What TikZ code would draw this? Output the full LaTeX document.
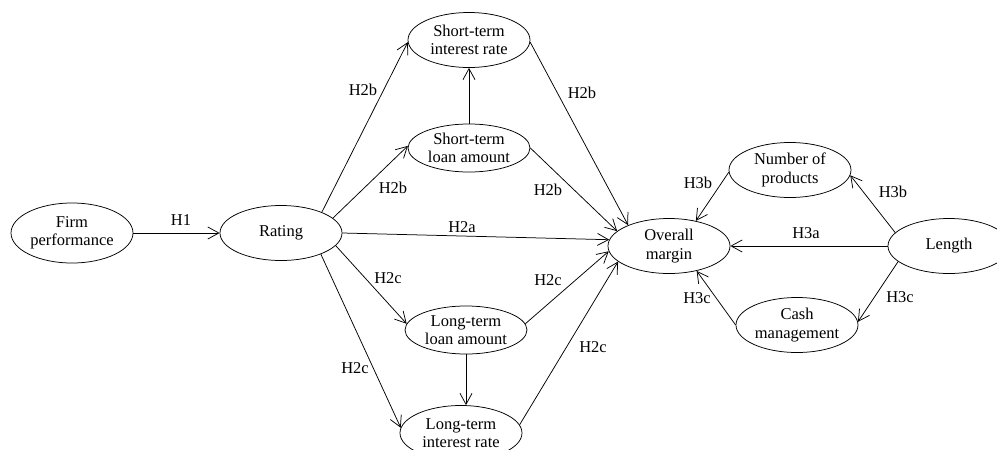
\documentclass[tikz,border=0pt]{standalone}
\usepackage{fontspec}
\setmainfont{Liberation Serif}
\usetikzlibrary{shapes.geometric}
\usetikzlibrary{arrows.meta}

\begin{document}
\begin{tikzpicture}[x=1pt,y=-1pt,line width=0.75pt]
\tikzstyle{construct}=[draw, ellipse, inner sep=0pt, align=center, minimum width=122pt, minimum height=55pt, font=\fontsize{16.5}{18.5}\selectfont]
\tikzstyle{hyp}=[-{Straight Barb[length=11pt,width=12pt]}]
\tikzstyle{lbl}=[font=\fontsize{16.5}{18.5}\selectfont]

\useasboundingbox (0,0) rectangle (997,450);

% constructs
\node (firm) at (72,233) [construct, minimum height=60pt] {Firm\\performance};
\node (rating) at (281,233) [construct] {Rating};
\node (stint) at (469,40) [construct] {Short-term\\interest rate};
\node (stloan) at (469,148) [construct, minimum height=48pt] {Short-term\\loan amount};
\node (ltloan) at (466,330) [construct, minimum height=48pt] {Long-term\\loan amount};
\node (ltint) at (461,433) [construct] {Long-term\\interest rate};
\node (overall) at (669,246) [construct] {Overall\\margin};
\node (nprod) at (790,170) [construct] {Number of\\products};
\node (cash) at (797,325) [construct] {Cash\\management};
\node (length) at (949,246) [construct] {Length};

% hypotheses
\draw[hyp] (firm) -- (rating);
\draw[hyp] (rating.27) -- (stint.182);
\draw[hyp] (rating.16) -- (stloan.178);
\draw[hyp] (rating.east) -- (overall.174);
\draw[hyp] (rating.-13) -- (ltloan.174);
\draw[hyp] (rating.-28) -- (ltint.175);
\draw[hyp] (stloan) -- (stint);
\draw[hyp] (ltloan) -- (ltloan |- ltint.north);
\draw[hyp] (stint.358) -- (overall.153);
\draw[hyp] (stloan.0) -- (overall.164);
\draw[hyp] (ltloan.6) -- (overall.185);
\draw[hyp] (ltint.8) -- (overall.197);
\draw[hyp] (nprod.182) -- (overall.43);
\draw[hyp] (length.166) -- (nprod.355);
\draw[hyp] (length) -- (overall);
\draw[hyp] (length.197) -- (cash.3);
\draw[hyp] (cash.west) -- (overall.318);

% labels
\node (lh1) at (181,220) [lbl] {H1};
\node (lh2b1) at (363,90) [lbl] {H2b};
\node (lh2b2) at (582,93) [lbl] {H2b};
\node (lh2b3) at (393,188) [lbl] {H2b};
\node (lh2b4) at (548,190) [lbl] {H2b};
\node (lh2a) at (462,227) [lbl] {H2a};
\node (lh2c1) at (388,278) [lbl] {H2c};
\node (lh2c2) at (548,280) [lbl] {H2c};
\node (lh2c3) at (355,368) [lbl] {H2c};
\node (lh2c4) at (593,347) [lbl] {H2c};
\node (lh3b1) at (698,183) [lbl] {H3b};
\node (lh3b2) at (893,192) [lbl] {H3b};
\node (lh3a) at (806,233) [lbl] {H3a};
\node (lh3c1) at (697,298) [lbl] {H3c};
\node (lh3c2) at (900,297) [lbl] {H3c};
\end{tikzpicture}
\end{document}
